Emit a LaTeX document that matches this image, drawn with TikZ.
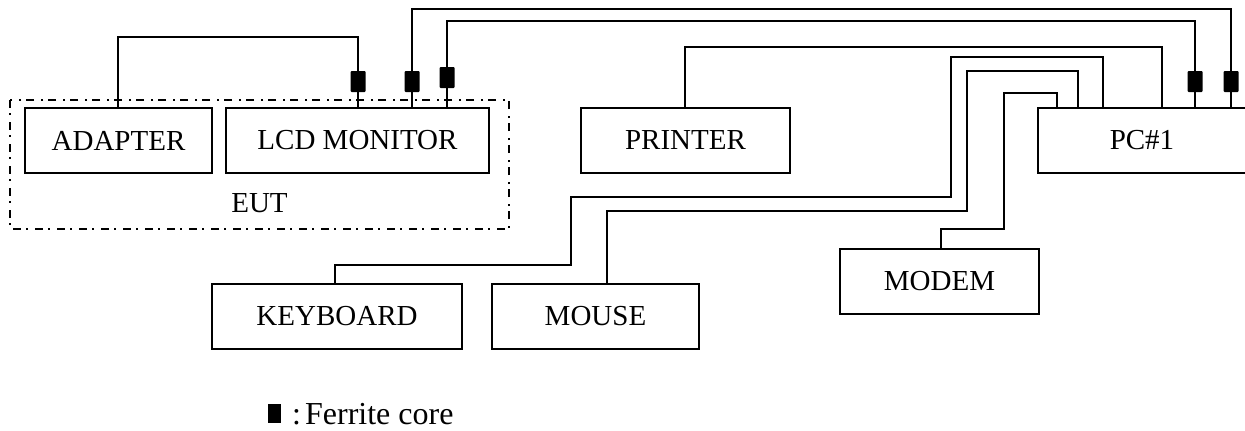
\documentclass[tikz,border=0pt]{standalone}
\usepackage{fontspec}
\setmainfont{Liberation Serif}
\begin{document}
\begin{tikzpicture}[x=1pt,y=-1pt,
  every node/.style={font=\fontsize{29}{34}\selectfont},
  box/.style={draw, line width=1.7pt, inner sep=0pt, anchor=center},
  cable/.style={line width=1.7pt, line join=miter},
  ferrite/.style={fill=black, rounded corners=1pt, minimum width=15pt, minimum height=21pt, inner sep=0pt},
  eut/.style={line width=1.3pt, dash pattern=on 8pt off 5pt on 2pt off 7pt}]
\useasboundingbox (0,0) rectangle (1245,431);
% EUT enclosure
\draw[eut] (10,100) rectangle (509,229);
\node[anchor=base] (euttxt) at (259.5,212) {EUT};
% boxes
\node[box, minimum width=187pt, minimum height=65pt] (adapter) at (118.5,140.5) {ADAPTER};
\node[box, minimum width=263pt, minimum height=65pt] (lcd) at (357.5,140.5) {LCD MONITOR};
\node[box, minimum width=209pt, minimum height=65pt] (printer) at (685.5,140.5) {PRINTER};
\node[box, minimum width=208pt, minimum height=65pt] (pc) at (1142,140.5) {PC\#1};
\node[box, minimum width=250pt, minimum height=65pt] (keyboard) at (337,316.5) {KEYBOARD};
\node[box, minimum width=207pt, minimum height=65pt] (mouse) at (595.5,316.5) {MOUSE};
\node[box, minimum width=199pt, minimum height=65pt] (modem) at (939.5,281.5) {MODEM};
% cables
\draw[cable] (adapter.north -| 118,0) -- (118,37) -- (358,37) -- (lcd.north -| 358,0);
\draw[cable] (lcd.north -| 412,0) -- (412,9) -- (1231,9) -- (pc.north -| 1231,0);
\draw[cable] (lcd.north -| 447,0) -- (447,21) -- (1195,21) -- (pc.north -| 1195,0);
\draw[cable] (printer.north -| 685,0) -- (685,47) -- (1162,47) -- (pc.north -| 1162,0);
\draw[cable] (keyboard.north -| 335,0) -- (335,265) -- (571,265) -- (571,197) -- (951,197) -- (951,57) -- (1103,57) -- (pc.north -| 1103,0);
\draw[cable] (mouse.north -| 607,0) -- (607,211) -- (967,211) -- (967,71) -- (1078,71) -- (pc.north -| 1078,0);
\draw[cable] (modem.north -| 941,0) -- (941,229) -- (1004,229) -- (1004,93) -- (1057,93) -- (pc.north -| 1057,0);
% ferrite cores
\node[ferrite] (f1) at (358,81.5) {};
\node[ferrite] (f2) at (412,81.5) {};
\node[ferrite] (f3) at (447,77.5) {};
\node[ferrite] (f4) at (1195,81.5) {};
\node[ferrite] (f5) at (1231,81.5) {};
% legend
\node[fill=black, minimum width=13pt, minimum height=19pt, inner sep=0pt] (legsq) at (274.5,413.5) {};
\node[anchor=base west, inner sep=0pt, font=\fontsize{32}{38}\selectfont] (legtxt) at (292,424) {:\kern4pt Ferrite core};
\end{tikzpicture}
\end{document}
